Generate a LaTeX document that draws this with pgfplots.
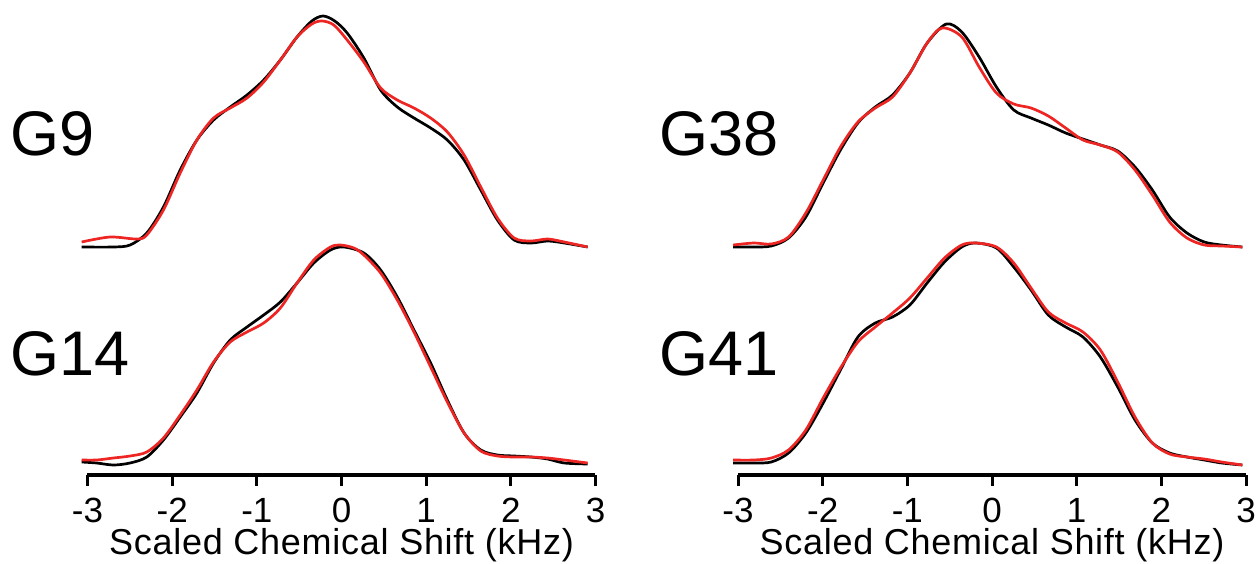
\documentclass[border=0pt]{standalone}
\usepackage{fontspec}
\setmainfont{Liberation Sans}
\usepackage{pgfplots}
\pgfplotsset{compat=1.18}
\definecolor{fitred}{RGB}{237,38,36}
\pgfplotsset{
  panel/.style={
    scale only axis, width=254pt, height=236pt,
    xmin=-3, xmax=3, ymin=-2, ymax=470,
    clip=false,
    axis x line=bottom, axis y line=none,
    axis line style={-, line width=1.6pt, black},
    xtick={-3,-2,-1,0,1,2,3},
    xticklabels={-3,-2,-1,0,1,2,3},
    tick align=outside, major tick length=5.5pt,
    x tick style={line width=1.5pt, black},
    xticklabel style={font=\fontsize{17.5}{17.5}\selectfont, anchor=base, yshift=-18pt},
    every axis x label/.style={at={(axis description cs:0.5,0)}, anchor=base, yshift=-39.5pt,
      font=\fontsize{18}{18}\selectfont\addfontfeature{LetterSpace=2}},
    xlabel={Scaled Chemical Shift (kHz)},
  },
  blk/.style={black, line width=1.35pt, smooth, no marks},
  rd/.style={fitred, line width=1.35pt, smooth, no marks},
}
\begin{document}
\begin{tikzpicture}
\useasboundingbox (-43.75pt,-44pt) rectangle (585.25pt,237.5pt);
\begin{axis}[panel, at={(0pt,0pt)}, anchor=south west]
% G9
\addplot[blk] coordinates {(-3.069,226) (-2.694,226) (-2.497,228) (-2.300,240) (-2.103,266) (-1.905,303) (-1.708,333) (-1.511,353) (-1.314,366) (-1.116,378) (-0.919,393) (-0.722,413) (-0.525,436) (-0.350,452) (-0.217,457) (-0.080,452) (0.067,440) (0.264,415) (0.462,383) (0.659,366) (0.856,355) (1.053,345) (1.250,333) (1.448,313) (1.645,283) (1.842,253) (2.039,233) (2.237,230) (2.434,232) (2.631,230) (2.907,226)};
\addplot[rd] coordinates {(-3.069,231) (-2.734,236) (-2.418,234) (-2.300,238) (-2.103,263) (-1.905,300) (-1.708,333) (-1.511,355) (-1.314,365) (-1.116,375) (-0.919,391) (-0.722,413) (-0.525,436) (-0.350,449) (-0.229,452) (-0.091,448) (0.067,433) (0.264,411) (0.462,385) (0.659,373) (0.856,365) (1.053,355) (1.250,341) (1.448,318) (1.645,286) (1.842,255) (2.039,235) (2.237,232) (2.434,234) (2.631,231) (2.907,226)};
% G14
\addplot[blk] coordinates {(-3.069,11) (-2.892,10) (-2.694,8) (-2.497,10) (-2.300,16) (-2.103,33) (-1.905,56) (-1.708,80) (-1.511,110) (-1.314,133) (-1.116,146) (-0.919,158) (-0.722,171) (-0.525,190) (-0.327,210) (-0.130,223) (0.028,226) (0.264,220) (0.462,203) (0.659,176) (0.856,143) (1.053,110) (1.250,73) (1.448,40) (1.645,23) (1.842,18) (2.039,17) (2.237,16) (2.434,14) (2.631,10) (2.907,9)};
\addplot[rd] coordinates {(-3.069,13) (-2.892,13) (-2.694,15) (-2.497,17) (-2.300,21) (-2.103,35) (-1.905,58) (-1.708,83) (-1.511,111) (-1.314,131) (-1.116,141) (-0.919,150) (-0.722,165) (-0.525,190) (-0.327,213) (-0.130,226) (-0.012,228) (0.146,225) (0.264,218) (0.462,200) (0.659,173) (0.856,141) (1.053,106) (1.250,71) (1.448,40) (1.645,22) (1.842,17) (2.039,16) (2.237,16) (2.434,15) (2.631,13) (2.907,10)};
\end{axis}
\begin{axis}[panel, at={(325.25pt,0pt)}, anchor=south west]
% G38
\addplot[blk] coordinates {(-3.057,226) (-2.812,226) (-2.607,227) (-2.403,235) (-2.199,256) (-1.994,290) (-1.790,323) (-1.584,350) (-1.379,366) (-1.175,378) (-0.970,400) (-0.766,430) (-0.540,449) (-0.357,441) (-0.152,416) (0.052,386) (0.257,363) (0.461,355) (0.665,348) (0.870,340) (1.074,334) (1.280,328) (1.485,322) (1.689,306) (1.894,283) (2.098,256) (2.303,240) (2.507,231) (2.712,228) (2.957,226)};
\addplot[rd] coordinates {(-3.057,228) (-2.812,230) (-2.607,229) (-2.403,236) (-2.199,260) (-1.994,293) (-1.790,326) (-1.584,351) (-1.379,365) (-1.175,376) (-0.970,400) (-0.766,430) (-0.590,445) (-0.357,436) (-0.152,406) (0.052,380) (0.257,369) (0.461,365) (0.665,357) (0.870,345) (1.074,333) (1.280,328) (1.485,321) (1.689,303) (1.894,278) (2.098,251) (2.303,235) (2.507,228) (2.712,227) (2.957,226)};
% G41
\addplot[blk] coordinates {(-3.057,10) (-2.812,10) (-2.607,11) (-2.403,20) (-2.199,40) (-1.994,70) (-1.790,103) (-1.584,136) (-1.379,150) (-1.175,156) (-0.970,168) (-0.766,190) (-0.561,211) (-0.357,226) (-0.194,230) (0.052,225) (0.257,206) (0.461,183) (0.665,158) (0.870,146) (1.074,136) (1.280,116) (1.485,86) (1.689,53) (1.894,30) (2.098,20) (2.303,16) (2.507,13) (2.712,10) (2.957,8)};
\addplot[rd] coordinates {(-3.057,13) (-2.812,13) (-2.607,15) (-2.403,23) (-2.199,43) (-1.994,75) (-1.790,105) (-1.584,131) (-1.379,146) (-1.175,160) (-0.970,175) (-0.766,195) (-0.561,215) (-0.357,228) (-0.194,230) (0.052,226) (0.257,210) (0.461,185) (0.665,161) (0.870,150) (1.074,141) (1.280,123) (1.485,91) (1.689,56) (1.894,30) (2.098,19) (2.303,16) (2.507,14) (2.712,11) (2.957,8)};
\end{axis}
\begin{scope}[every node/.style={inner sep=0pt, anchor=base west, font=\fontsize{31.5}{31.5}\selectfont}]
\node at (-38.5pt,160pt) {G9};
\node at (-38.5pt,50pt) {G14};
\node at (286pt,160pt) {G38};
\node at (286pt,50pt) {G41};
\end{scope}
\end{tikzpicture}
\end{document}
